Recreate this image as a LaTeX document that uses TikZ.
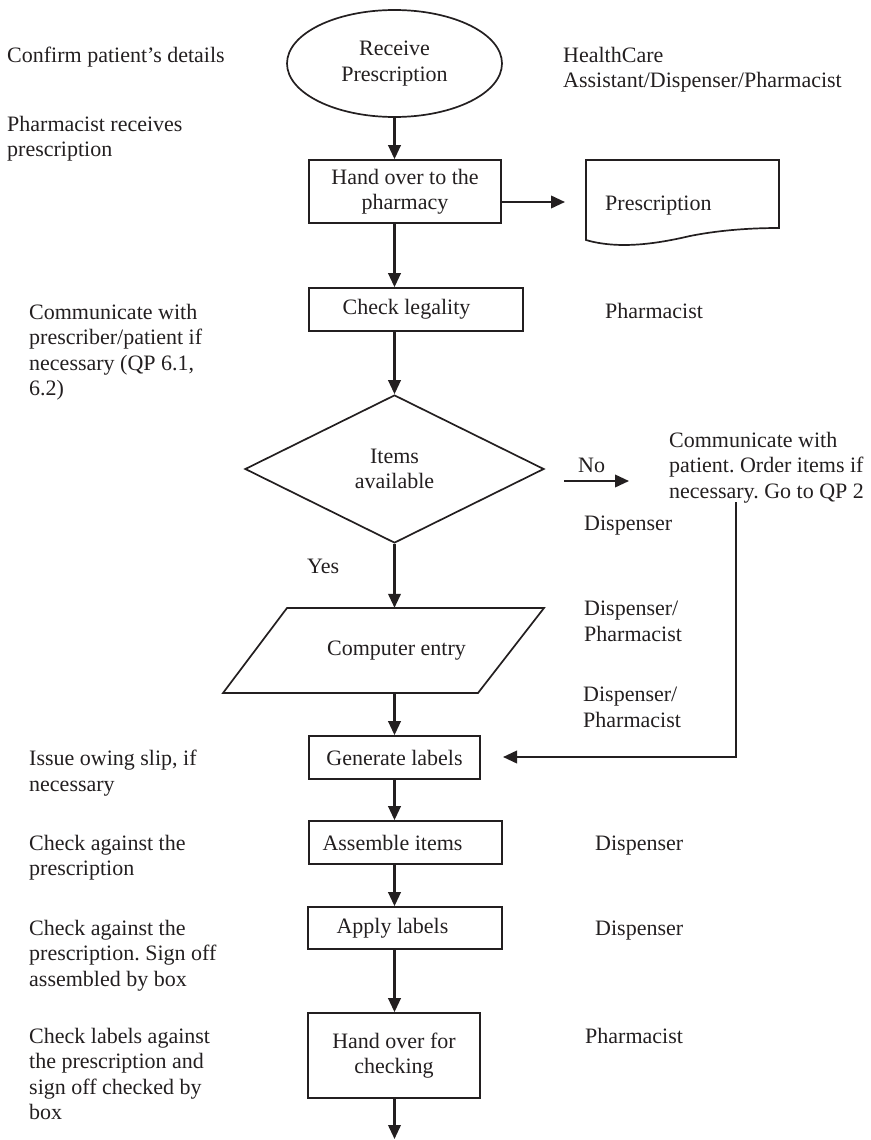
\documentclass[tikz,border=0pt]{standalone}
\usepackage{fontspec}
\setmainfont{Liberation Serif}
\usetikzlibrary{arrows.meta,shapes.geometric}
\definecolor{ink}{HTML}{231F20}
\frenchspacing
\begin{document}
\begin{tikzpicture}[x=1pt,y=-1pt,
  every node/.style={text=ink, font=\fontsize{22}{25.5}\selectfont},
  shapeline/.style={draw=ink, line width=1.7pt},
  box/.style={shapeline, rectangle, inner sep=0pt, align=center},
  flow/.style={draw=ink, line width=2.2pt, -{Triangle[length=14pt,width=12.5pt]}},
  note/.style={anchor=north west, inner sep=0pt, align=left},
  word/.style={anchor=base west, inner sep=0pt},
]
\useasboundingbox (0,0) rectangle (870,1140);

% process shapes
\node[shapeline, ellipse, minimum width=215pt, minimum height=107pt, inner sep=0pt, align=center]
  (recv) at (394.5,63.5) {Receive\\Prescription};
\node[box, minimum width=192pt, minimum height=63pt] (handover) at (405,191.5) {Hand over to the\\pharmacy};
\node[box, minimum width=214pt, minimum height=43pt] (check) at (416,309.5) {Check legality\hspace*{19pt}};
\node[shapeline, diamond, minimum width=299pt, minimum height=148pt, inner sep=0pt, align=center]
  (avail) at (394.5,469) {Items\\available};
\draw[shapeline] (223,693) -- (287,608) -- (544,608) -- (478,693) -- cycle;
\node[inner sep=0pt, minimum width=190pt, minimum height=85pt] (entry) at (396.5,650.5) {Computer entry};
\node[box, minimum width=171pt, minimum height=43pt] (gen) at (394.5,757.5) {Generate labels};
\node[box, minimum width=193pt, minimum height=43pt] (assemble) at (405.5,842.5) {Assemble items\hspace*{26pt}};
\node[box, minimum width=194pt, minimum height=42pt] (apply) at (405,928) {Apply labels\hspace*{25pt}};
\node[box, minimum width=172pt, minimum height=85pt] (handcheck) at (394,1055.5) {Hand over for\\checking};

% prescription document
\draw[shapeline] (586,160) -- (779,160) -- (779,228)
  .. controls (745,228) and (715,231) .. (690,236)
  .. controls (660,243) and (620,250) .. (586,240) -- cycle;
\node[word] (doc) at (605,210) {Prescription};

% connectors
\coordinate (spine) at (394.5,0);
\draw[flow] (recv.south) -- (recv.south |- handover.north);
\coordinate (docin) at (565,202);
\draw[flow] (handover.east |- docin) -- (docin);
\draw[flow] (handover.south -| spine) -- (check.north -| spine);
\draw[flow] (check.south -| spine) -- (avail.north);
\draw[flow] (avail.south) -- (entry.north -| spine);
\draw[flow] (entry.south -| spine) -- (gen.north -| spine);
\draw[flow] (gen.south -| spine) -- (assemble.north -| spine);
\draw[flow] (assemble.south -| spine) -- (apply.north -| spine);
\draw[flow] (apply.south -| spine) -- (handcheck.north -| spine);
\coordinate (out) at (394.5,1139);
\draw[flow] (handcheck.south -| spine) -- (out);
\coordinate (nostart) at (564,481);
\coordinate (noend) at (629,481);
\draw[flow] (nostart) -- (noend);
\coordinate (ret) at (736,502);
\coordinate (genin) at (503,757);
\draw[flow] (ret) |- (genin);

% branch labels
\node[word] (nolbl) at (578,472) {No};
\node[word] (yeslbl) at (307,573) {Yes};

% notes on the left
\node[note] (n1) at (7,47) {Confirm patient’s details};
\node[note] (n2) at (7,116) {Pharmacist receives\\prescription};
\node[note] (n3) at (29,304) {Communicate with\\prescriber/patient if\\necessary (QP 6.1,\\6.2)};
\node[note] (n4) at (29,750) {Issue owing slip, if\\necessary};
\node[note] (n5) at (29,835) {Check against the\\prescription};
\node[note] (n6) at (29,920) {Check against the\\prescription. Sign off\\assembled by box};
\node[note] (n7) at (29,1028) {Check labels against\\the prescription and\\sign off checked by\\box};

% roles on the right
\node[note] (r1) at (563,47) {HealthCare\\Assistant/Dispenser/Pharmacist};
\node[word] (r2) at (605,318) {Pharmacist};
\node[note] (r3) at (669,432) {Communicate with\\patient. Order items if\\necessary. Go to QP 2};
\node[word] (r4) at (584,530) {Dispenser};
\node[note] (r5) at (584,601) {Dispenser/\\Pharmacist};
\node[note] (r6) at (583,687) {Dispenser/\\Pharmacist};
\node[word] (r7) at (595,850) {Dispenser};
\node[word] (r8) at (595,935) {Dispenser};
\node[word] (r9) at (585,1043) {Pharmacist};
\end{tikzpicture}
\end{document}
